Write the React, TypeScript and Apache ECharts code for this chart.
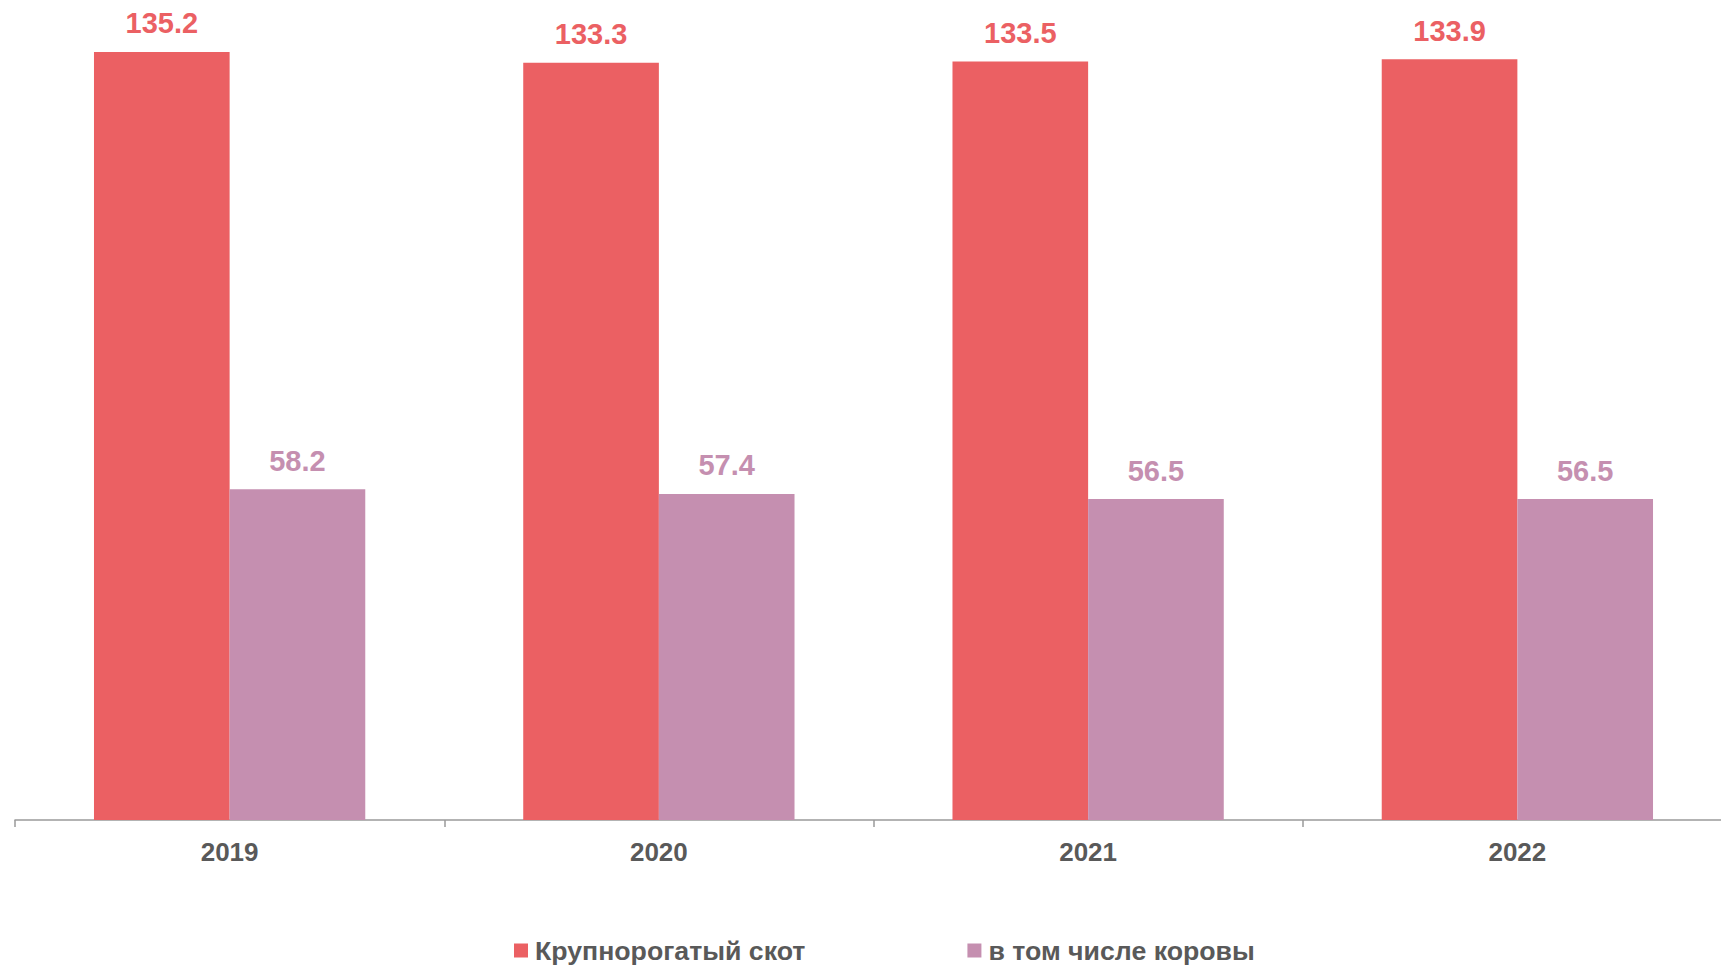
import React, { useEffect, useRef } from "react";
import * as echarts from "echarts";

const categories = ["2019", "2020", "2021", "2022"];
const cattle = [135.2, 133.3, 133.5, 133.9];
const cows = [58.2, 57.4, 56.5, 56.5];
const seriesNames = ["Крупнорогатый скот", "в том числе коровы"];

const RED = "#EB6063";
const PURPLE = "#C58FB0";
const FONT = "'Liberation Sans', Arial, sans-serif";

export default function App() {
  const ref = useRef<HTMLDivElement>(null);
  useEffect(() => {
    if (!ref.current) return;
    const chart = echarts.init(ref.current, undefined, { renderer: "svg" });
    chart.setOption({
      animation: false,
      backgroundColor: "#ffffff",
      textStyle: { fontFamily: FONT },
      grid: { left: 15, top: 0, width: 1717, height: 820, containLabel: false },
      legend: {
        left: 509,
        top: 932,
        itemWidth: 14,
        itemHeight: 14,
        itemGap: 162,
        icon: "rect",
        textStyle: {
          fontFamily: FONT,
          fontSize: 26.7,
          fontWeight: "bold",
          color: "#595959",
          padding: [0, 0, 0, 2],
        },
        data: seriesNames,
      },
      xAxis: {
        type: "category",
        data: categories,
        boundaryGap: true,
        axisLine: { show: true, lineStyle: { color: "#9a9a9a", width: 1.5 } },
        axisTick: { show: true, length: 7, alignWithLabel: false, lineStyle: { color: "#9a9a9a", width: 1.5 } },
        axisLabel: { fontFamily: FONT, fontSize: 26, fontWeight: "bold", color: "#595959", margin: 19 },
      },
      yAxis: {
        type: "value",
        min: 0,
        max: 144.34,
        show: false,
        splitLine: { show: false },
      },
      series: [
        {
          name: seriesNames[0],
          type: "bar",
          data: cattle,
          barWidth: "31.6%",
          barGap: "0%",
          itemStyle: { color: RED },
          label: {
            show: true,
            position: "top",
            distance: 14,
            fontFamily: FONT,
            fontSize: 29,
            fontWeight: "bold",
            color: RED,
            formatter: (p: any) => p.value.toFixed(1),
          },
        },
        {
          name: seriesNames[1],
          type: "bar",
          data: cows,
          barWidth: "31.6%",
          barGap: "0%",
          itemStyle: { color: PURPLE },
          label: {
            show: true,
            position: "top",
            distance: 14,
            fontFamily: FONT,
            fontSize: 29,
            fontWeight: "bold",
            color: PURPLE,
            formatter: (p: any) => p.value.toFixed(1),
          },
        },
      ],
    });
    return () => chart.dispose();
  }, []);
  return (
    <div
      ref={ref}
      style={{ position: "fixed", left: 0, top: 0, width: 1740, height: 965, background: "#fff" }}
    />
  );
}
